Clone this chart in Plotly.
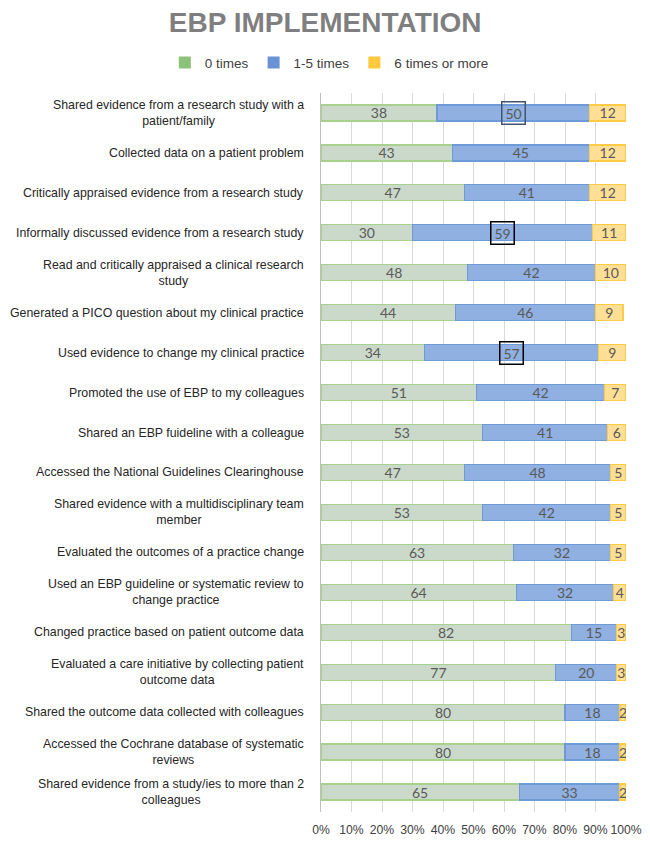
import plotly.graph_objects as go

categories = [
    "Shared evidence from a research study with a<br>patient/family",
    "Collected data on a patient problem",
    "Critically appraised evidence from a research study",
    "Informally discussed evidence from a research study",
    "Read and critically appraised a clinical research<br>study",
    "Generated a PICO question about my clinical practice",
    "Used evidence to change my clinical practice",
    "Promoted the use of EBP to my colleagues",
    "Shared an EBP fuideline with a colleague",
    "Accessed the National Guidelines Clearinghouse",
    "Shared evidence with a multidisciplinary team<br>member",
    "Evaluated the outcomes of a practice change",
    "Used an EBP guideline or systematic review to<br>change practice",
    "Changed practice based on patient outcome data",
    "Evaluated a care initiative by collecting patient<br>outcome data",
    "Shared the outcome data collected with colleagues",
    "Accessed the Cochrane database of systematic<br>reviews",
    "Shared evidence from a study/ies to more than 2<br>colleagues",
]
zero_times = [38, 43, 47, 30, 48, 44, 34, 51, 53, 47, 53, 63, 64, 82, 77, 80, 80, 65]
one_five_times = [50, 45, 41, 59, 42, 46, 57, 42, 41, 48, 42, 32, 32, 15, 20, 18, 18, 33]
six_plus_times = [12, 12, 12, 11, 10, 9, 9, 7, 6, 5, 5, 5, 4, 3, 3, 2, 2, 2]
series_names = ["0 times", "1-5 times", "6 times or more"]
tick_vals = [0, 10, 20, 30, 40, 50, 60, 70, 80, 90, 100]
tick_text = ["0%", "10%", "20%", "30%", "40%", "50%", "60%", "70%", "80%", "90%", "100%"]
# rows whose 1-5 value is highlighted with a box, and box colour
boxed = {0: "#44546A", 3: "#000000", 6: "#000000"}

fills = ["#CBD9CA", "#8FB0E0", "#FFDF96"]
edges = ["#A9D18E", "#6F9AD8", "#FFCB45"]
legend_cols = ["#8DC27B", "#6A93D6", "#FFC83D"]
label_col = "#595959"

fig = go.Figure()
series = [zero_times, one_five_times, six_plus_times]
for i, (name, vals) in enumerate(zip(series_names, series)):
    texts = []
    for r, v in enumerate(vals):
        if i == 1 and r in boxed:
            texts.append("")
        else:
            texts.append(str(v))
    fig.add_trace(go.Bar(
        y=categories, x=vals, orientation="h", name=name,
        marker=dict(color=fills[i], line=dict(color=edges[i], width=1.2)),
        text=texts, textposition="inside", insidetextanchor="middle",
        textangle=0, constraintext="none",
        textfont=dict(family="Lato, Carlito, sans-serif", size=14, color=label_col),
        showlegend=False, hoverinfo="skip",
    ))
    fig.add_trace(go.Bar(
        y=[None], x=[None], orientation="h", name=name,
        marker=dict(color=legend_cols[i], line=dict(width=0)),
        showlegend=True,
    ))

# boxed highlights
for r, col in boxed.items():
    fig.add_annotation(
        x=zero_times[r] + one_five_times[r] / 2, y=categories[r],
        xref="x", yref="y", text=str(one_five_times[r]), showarrow=False,
        font=dict(family="Lato, Carlito, sans-serif", size=14, color=label_col),
        bordercolor=col, borderwidth=1.5, borderpad=2, width=18, height=17,
    )

# category labels (centered multiline)
for c in categories:
    fig.add_annotation(
        x=0, y=c, xref="paper", yref="y", text=c, showarrow=False,
        xanchor="right", xshift=-15, align="center",
        font=dict(family="Liberation Sans, Arial, sans-serif", size=12.35, color="#262626"),
    )

fig.update_layout(
    width=650, height=841,
    barmode="stack", bargap=0.6,
    plot_bgcolor="white", paper_bgcolor="white",
    margin=dict(l=313, r=32, t=85, b=37, autoexpand=False),
    title=dict(text="<b>EBP IMPLEMENTATION</b>", x=0.488, xref="container", xanchor="center",
               y=0.983, yref="container", yanchor="middle",
               font=dict(family="Liberation Sans, Arial, sans-serif", size=28, color="#7F7F7F")),
    legend=dict(orientation="h", x=-0.512, xanchor="left", xref="paper",
                y=1.042, yref="paper", yanchor="middle",
                font=dict(family="Liberation Sans, Arial, sans-serif", size=13.5, color="#404040"),
                itemwidth=30, traceorder="normal"),
    xaxis=dict(range=[0, 100], tickvals=tick_vals, ticktext=tick_text,
               showgrid=True, gridcolor="#D9D9D9", gridwidth=1, zeroline=False,
               ticklabelstandoff=9, tickangle=0,
               tickfont=dict(family="Liberation Sans, Arial, sans-serif", size=12.2, color="#404040"),
               fixedrange=True),
    yaxis=dict(autorange="reversed", showticklabels=False, showline=True,
               linecolor="#BFBFBF", linewidth=1, ticks="", showgrid=False),
)

fig.write_html("out.html")
